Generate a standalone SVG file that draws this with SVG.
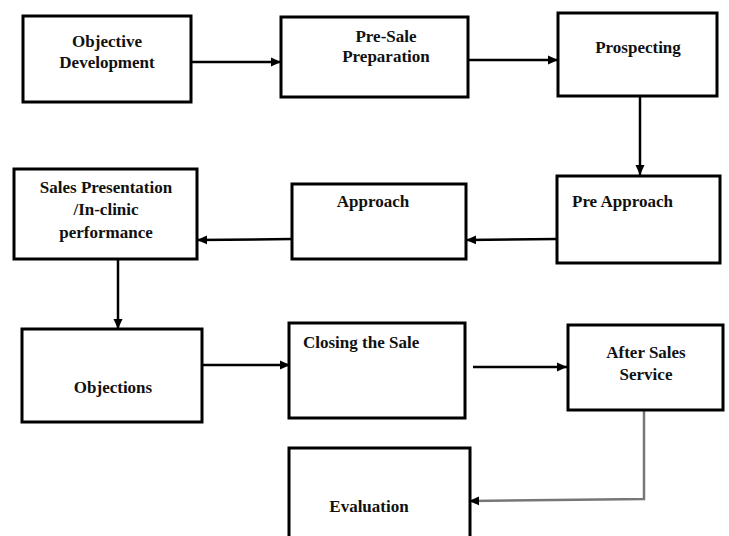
<svg xmlns="http://www.w3.org/2000/svg" width="729" height="536" viewBox="0 0 729 536">
<style>
.box{fill:#fff;stroke:#000;stroke-width:3}
.t{font-family:"Liberation Serif","Times New Roman",serif;font-weight:bold;font-size:17px;fill:#111}
.m{text-anchor:middle}
.c{fill:none;stroke:#000;stroke-width:2.5}
.g{fill:none;stroke:#777;stroke-width:2.5}
</style>
<defs>
<marker id="ah" markerUnits="userSpaceOnUse" markerWidth="10" markerHeight="10" viewBox="0 0 10 10" refX="10" refY="5" orient="auto">
<path d="M0,0.5 L10,5 L0,9.5 Z" fill="#000"/>
</marker>
</defs>
<rect width="729" height="536" fill="#fff"/>
<g id="connectors">
<line class="c" x1="191" y1="62" x2="281" y2="62" marker-end="url(#ah)"/>
<line class="c" x1="468" y1="60" x2="558" y2="60" marker-end="url(#ah)"/>
<line class="c" x1="640" y1="97" x2="640" y2="175" marker-end="url(#ah)"/>
<line class="c" x1="557" y1="239" x2="466" y2="240" marker-end="url(#ah)"/>
<line class="c" x1="292" y1="239" x2="197" y2="240" marker-end="url(#ah)"/>
<line class="c" x1="118" y1="259" x2="118" y2="329" marker-end="url(#ah)"/>
<line class="c" x1="202" y1="365" x2="290" y2="365" marker-end="url(#ah)"/>
<line class="c" x1="473" y1="367" x2="567" y2="367" marker-end="url(#ah)"/>
<polyline class="g" points="644,410 644,499 469,501" marker-end="url(#ah)"/>
</g>
<g id="n1"><rect class="box" x="23" y="16" width="168" height="86"/><text class="t m" x="107" y="47">Objective</text><text class="t m" x="107" y="68">Development</text></g>
<g id="n2"><rect class="box" x="281" y="17" width="187" height="80"/><text class="t m" x="386" y="42">Pre-Sale</text><text class="t m" x="386" y="62">Preparation</text></g>
<g id="n3"><rect class="box" x="558" y="13" width="159" height="83"/><text class="t m" x="638" y="53">Prospecting</text></g>
<g id="n4"><rect class="box" x="557" y="176" width="163" height="87"/><text class="t" x="572" y="207">Pre Approach</text></g>
<g id="n5"><rect class="box" x="292" y="184" width="174" height="75"/><text class="t m" x="373" y="207">Approach</text></g>
<g id="n6"><rect class="box" x="14" y="169" width="183" height="90"/><text class="t m" x="106" y="193">Sales Presentation</text><text class="t m" x="106" y="215">/In-clinic</text><text class="t m" x="106" y="238">performance</text></g>
<g id="n7"><rect class="box" x="22" y="329" width="180" height="93"/><text class="t m" x="113" y="393">Objections</text></g>
<g id="n8"><rect class="box" x="289" y="323" width="176" height="95"/><text class="t" x="303" y="348">Closing the Sale</text></g>
<g id="n9"><rect class="box" x="568" y="325" width="155" height="85"/><text class="t m" x="646" y="358">After Sales</text><text class="t m" x="646" y="380">Service</text></g>
<g id="n10"><rect class="box" x="289" y="448" width="181" height="100"/><text class="t m" x="369" y="512">Evaluation</text></g>
</svg>
